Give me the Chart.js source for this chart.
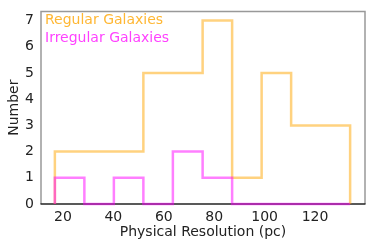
<!DOCTYPE html>
<html>
<head>
<meta charset="utf-8">
<script src="https://cdn.jsdelivr.net/npm/chart.js@4/dist/chart.umd.min.js"></script>
<style>
html,body{margin:0;padding:0;background:#fff;}
#wrap{width:374px;height:249px;position:relative;}
</style>
</head>
<body>
<div id="wrap"><canvas id="c" width="374" height="249"></canvas></div>
<script>
// Histogram bin edges (pc) and counts
const binEdges = [16.8, 28.5, 40.2, 51.9, 63.6, 75.4, 87.1, 98.8, 110.5, 122.2, 133.9];
const regularCounts = [2, 2, 2, 5, 5, 7, 1, 5, 3, 3];
const irregularCounts = [1, 0, 1, 0, 2, 1, 0, 0, 0, 0];
const seriesNames = ["Regular Galaxies", "Irregular Galaxies"];
const lineColors = ["rgba(255,165,0,0.5)", "rgba(255,0,255,0.5)"];
const textColors = ["rgba(255,165,0,0.8)", "rgba(255,0,255,0.75)"];
const xTicks = [20, 40, 60, 80, 100, 120];
const yTicks = [0, 1, 2, 3, 4, 5, 6, 7];

function stepPoints(edges, counts) {
  const pts = [{x: edges[0], y: 0}];
  for (let i = 0; i < counts.length; i++) pts.push({x: edges[i], y: counts[i]});
  pts.push({x: edges[edges.length - 1], y: counts[counts.length - 1]});
  pts.push({x: edges[edges.length - 1], y: 0});
  return pts;
}

const FONT = "'DejaVu Sans', sans-serif";

const legendPlugin = {
  id: 'textLegend',
  afterDatasetsDraw(chart) {
    const ctx = chart.ctx;
    const a = chart.chartArea;
    ctx.save();
    ctx.font = "14px " + FONT;
    ctx.textBaseline = 'middle';
    ctx.textAlign = 'left';
    seriesNames.forEach((n, i) => {
      ctx.fillStyle = textColors[i];
      ctx.fillText(n, a.left + 4, a.top + 9 + i * 18);
    });
    ctx.restore();
  }
};

const spinePlugin = {
  id: 'spines',
  beforeDatasetsDraw(chart) {
    const ctx = chart.ctx;
    const a = chart.chartArea;
    ctx.save();
    ctx.lineWidth = 1.5;
    ctx.strokeStyle = '#999999';
    ctx.beginPath();
    ctx.moveTo(a.left, a.bottom);
    ctx.lineTo(a.left, a.top);
    ctx.lineTo(a.right, a.top);
    ctx.lineTo(a.right, a.bottom);
    ctx.stroke();
    ctx.strokeStyle = '#222222';
    ctx.beginPath();
    ctx.moveTo(a.left - 0.5, a.bottom);
    ctx.lineTo(a.right + 0.5, a.bottom);
    ctx.stroke();
    ctx.restore();
  }
};

new Chart(document.getElementById('c'), {
  type: 'line',
  data: {
    datasets: [
      {
        label: seriesNames[0],
        data: stepPoints(binEdges, regularCounts),
        borderColor: lineColors[0],
        borderWidth: 2.5,
        stepped: 'before',
        pointRadius: 0,
        fill: false,
        clip: false,
        order: 2
      },
      {
        label: seriesNames[1],
        data: stepPoints(binEdges, irregularCounts),
        borderColor: lineColors[1],
        borderWidth: 2.5,
        stepped: 'before',
        pointRadius: 0,
        fill: false,
        clip: false,
        order: 1
      }
    ]
  },
  options: {
    responsive: false,
    animation: false,
    devicePixelRatio: 1,
    layout: {padding: {top: 10, right: 9, left: 0, bottom: 8}},
    plugins: {legend: {display: false}, tooltip: {enabled: false}},
    scales: {
      x: {
        type: 'linear',
        min: 11.3,
        max: 139.8,
        afterFit(s) { s.height = 37; },
        afterBuildTicks(s) { s.ticks = xTicks.map(v => ({value: v})); },
        grid: {display: false, drawTicks: true, tickLength: 4, tickColor: '#222', drawOnChartArea: false},
        border: {display: false},
        ticks: {font: {family: FONT, size: 14}, color: '#222', padding: 1, maxRotation: 0, autoSkip: false},
        title: {display: true, text: 'Physical Resolution (pc)', font: {family: FONT, size: 14}, color: '#222', padding: {top: 1, bottom: 0}}
      },
      y: {
        type: 'linear',
        min: 0,
        max: 7.35,
        afterFit(s) { s.width = 41; },
        afterBuildTicks(s) { s.ticks = yTicks.map(v => ({value: v})); },
        grid: {display: false, drawTicks: true, tickLength: 4, tickColor: '#222', drawOnChartArea: false},
        border: {display: false},
        ticks: {font: {family: FONT, size: 14}, color: '#222', padding: 3, autoSkip: false},
        title: {display: true, text: 'Number', font: {family: FONT, size: 14}, color: '#222', padding: {top: 6, bottom: 2}}
      }
    }
  },
  plugins: [legendPlugin, spinePlugin]
});
</script>
</body>
</html>
